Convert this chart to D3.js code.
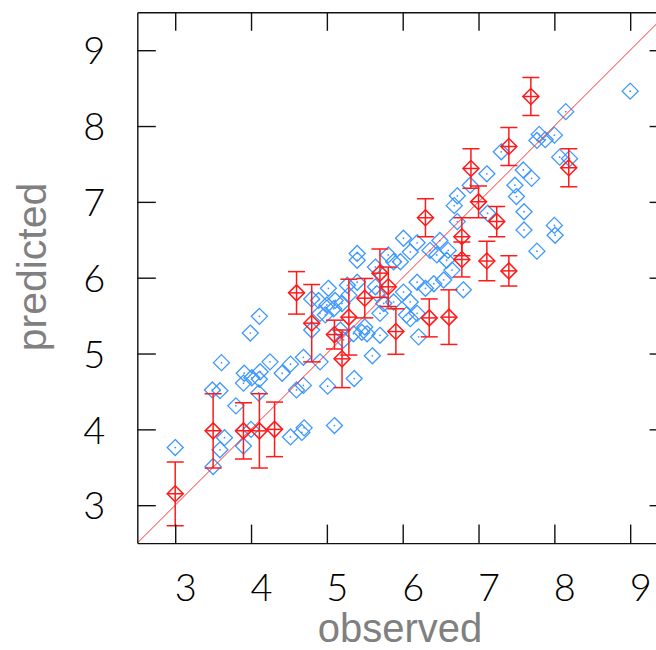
<!DOCTYPE html>
<html>
<head>
<meta charset="utf-8">
<script src="https://cdn.jsdelivr.net/npm/d3@7"></script>
<style>
  body { margin:0; background:#fff; }
  svg { display:block; }
  .tick text { font-family: Lato, "DejaVu Sans", sans-serif; font-weight:300; fill:#000; }
  .title { font-family: "Liberation Sans", Arial, sans-serif; fill:#808080; }
</style>
</head>
<body>
<svg id="chart" width="656" height="650"></svg>
<script>
// observed vs predicted (blue = training set, red = test set with error bars)
var blueX = [3.00,3.50,3.49,3.59,3.61,3.65,3.59,3.80,3.90,4.00,3.91,3.90,4.01,4.11,4.10,4.12,4.25,4.41,4.52,4.60,
             4.69,4.69,4.52,4.67,4.70,5.10,4.91,5.01,5.36,5.60,4.11,3.99,4.80,4.91,5.00,5.09,5.20,5.29,4.80,5.18,
             5.35,5.46,5.53,5.70,5.22,5.70,5.66,5.02,4.89,5.11,4.98,5.27,5.40,5.64,5.75,5.50,6.10,6.21,6.05,6.19,
             5.88,6.10,6.01,6.19,6.30,6.41,6.54,5.64,5.81,5.97,5.88,5.40,5.40,6.01,6.19,6.10,6.36,6.45,6.58,6.65,
             6.49,6.60,6.80,6.72,6.68,6.72,6.89,7.12,7.11,7.30,7.48,7.50,7.60,7.60,7.59,7.70,7.77,7.80,7.88,8.00,
             8.07,8.20,8.15,9.00,8.00,8.01,7.77];
var blueY = [3.76,3.51,4.52,4.51,4.88,3.89,3.73,4.31,3.78,4.00,4.74,4.61,4.68,4.66,4.48,4.76,4.89,4.74,4.86,4.52,
             4.58,4.95,3.90,3.96,4.02,4.05,4.89,4.57,4.67,4.97,5.49,5.27,5.72,5.53,5.64,5.59,5.66,5.77,5.31,5.31,
             5.26,5.28,5.26,5.24,5.18,5.53,5.79,5.86,5.70,5.70,5.51,5.90,5.94,5.88,5.66,5.35,5.46,5.22,5.51,5.53,
             5.68,5.68,5.81,5.94,5.86,5.92,5.97,6.14,6.30,6.21,6.21,6.32,6.23,6.52,6.46,6.34,6.36,6.30,6.23,6.10,
             6.49,6.36,5.84,6.74,6.95,7.08,7.22,6.85,7.37,7.66,7.22,7.07,6.87,6.63,7.42,7.31,7.81,7.89,7.82,7.88,
             7.59,7.57,8.19,8.46,6.69,6.56,6.35];

var redX   = [3.00,3.50,3.90,4.11,4.31,4.60,4.80,5.10,5.20,5.29,5.50,5.70,5.81,5.91,6.35,6.61,6.30,6.78,6.78,7.11,
              7.40,6.90,7.00,7.24,7.40,7.69,8.19];
var redY   = [3.15,3.98,3.98,3.98,4.00,5.80,5.40,5.25,4.93,5.48,5.73,6.06,5.88,5.29,5.47,5.48,6.79,6.54,6.24,6.22,
              6.09,7.44,7.00,6.74,7.73,8.39,7.45];
var redErr = [0.42,0.49,0.37,0.49,0.36,0.28,0.51,0.19,0.38,0.50,0.26,0.32,0.26,0.30,0.25,0.36,0.25,0.25,0.23,0.26,
              0.20,0.26,0.21,0.20,0.25,0.25,0.25];

var ticks = [3,4,5,6,7,8,9];
var domain = [2.5, 9.5];

var svg = d3.select('#chart');
var pLeft = 137.3, pTop = 12.3, pSize = 530.8;
var x = d3.scaleLinear().domain(domain).range([pLeft, pLeft+pSize]);
var y = d3.scaleLinear().domain(domain).range([pTop+pSize, pTop]);
var tl = 18.5;

svg.append('clipPath').attr('id','clip')
    .append('rect').attr('x',pLeft).attr('y',pTop).attr('width',pSize).attr('height',pSize);

var plot = svg.append('g').attr('clip-path','url(#clip)');

// blue diamonds
var dr = 8;
var diamond = (cx,cy)=>`M${cx},${cy-dr}L${cx+dr},${cy}L${cx},${cy+dr}L${cx-dr},${cy}Z`;
var blue = blueX.map((v,i)=>({x:v, y:blueY[i]}));
var gb = plot.append('g');
gb.selectAll('path').data(blue).enter().append('path')
    .attr('d',d=>diamond(x(d.x),y(d.y)))
    .attr('fill','none').attr('stroke','#3d97ff').attr('stroke-width',1.3);
gb.selectAll('circle').data(blue).enter().append('circle')
    .attr('cx',d=>x(d.x)).attr('cy',d=>y(d.y)).attr('r',0.9).attr('fill','#3d97ff');

// y = x line
plot.append('line')
    .attr('x1',x(domain[0])).attr('y1',y(domain[0]))
    .attr('x2',x(domain[1])).attr('y2',y(domain[1]))
    .attr('stroke','#ff3030').attr('stroke-width',1);

// red points with error bars
var red = redX.map((v,i)=>({x:v, y:redY[i], e:redErr[i]}));
var gr = plot.append('g').attr('stroke','#ff1a1a').attr('stroke-width',1.5).attr('fill','none');
var cap = 8.5;
red.forEach(d=>{
    var cx = x(d.x), cy = y(d.y), y0 = y(d.y-d.e), y1 = y(d.y+d.e);
    gr.append('line').attr('x1',cx).attr('x2',cx).attr('y1',y0).attr('y2',y1);
    gr.append('line').attr('x1',cx-cap).attr('x2',cx+cap).attr('y1',y0).attr('y2',y0);
    gr.append('line').attr('x1',cx-cap).attr('x2',cx+cap).attr('y1',y1).attr('y2',y1);
    gr.append('path').attr('d',diamond(cx,cy));
    gr.append('line').attr('x1',cx-dr).attr('x2',cx+dr).attr('y1',cy).attr('y2',cy);
});

// frame and inward ticks
var axisColor = '#111';
var gx = svg.append('g').attr('transform',`translate(0,${pTop+pSize})`)
    .call(d3.axisBottom(x).tickValues(ticks).tickSizeInner(-tl).tickSizeOuter(0).tickPadding(44).tickFormat(d3.format('d')));
gx.selectAll('text').attr('dx',10).attr('dy','0.36em').style('font-size','38px');
var gt = svg.append('g').attr('transform',`translate(0,${pTop})`)
    .call(d3.axisTop(x).tickValues(ticks).tickSizeInner(-tl).tickSizeOuter(0).tickFormat(''));
var gy = svg.append('g').attr('transform',`translate(${pLeft},0)`)
    .call(d3.axisLeft(y).tickValues(ticks).tickSizeInner(-tl).tickSizeOuter(0).tickFormat(d3.format('d')));
gy.selectAll('text').attr('x',-43).attr('dy','0.36em').attr('text-anchor','middle').style('font-size','38px');
var gr2 = svg.append('g').attr('transform',`translate(${pLeft+pSize},0)`)
    .call(d3.axisRight(y).tickValues(ticks).tickSizeInner(-tl).tickSizeOuter(0).tickFormat(''));
svg.selectAll('.domain, .tick line').attr('stroke',axisColor).attr('stroke-width',1.4);
svg.selectAll('.tick text').attr('font-family',null).attr('font-size',null);

// axis titles
svg.append('text').attr('class','title')
    .attr('x',400).attr('y',642).attr('text-anchor','middle')
    .style('font-size','40px').text('observed');
svg.append('text').attr('class','title')
    .attr('transform','translate(46,267) rotate(-90)').attr('text-anchor','middle')
    .style('font-size','41px').text('predicted');
</script>
</body>
</html>
